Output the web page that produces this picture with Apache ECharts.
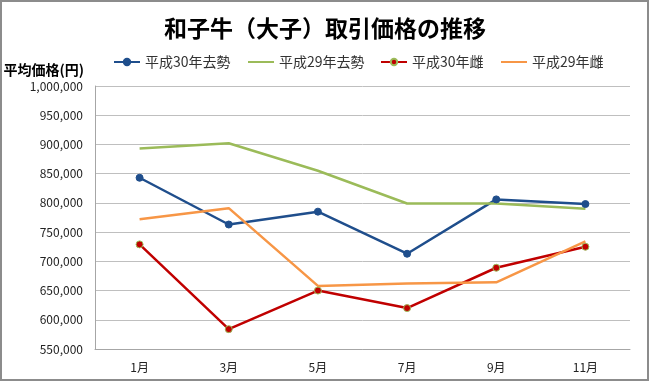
<!DOCTYPE html>
<html>
<head>
<meta charset="utf-8">
<script src="https://cdn.jsdelivr.net/npm/echarts@6/dist/echarts.min.js"></script>
<style>
html,body{margin:0;padding:0;background:#fff;}
#c{width:650px;height:383px;}
</style>
</head>
<body>
<div id="c"></div>
<script>
const categories = ['1月', '3月', '5月', '7月', '9月', '11月'];
const seriesNames = ['平成30年去勢', '平成29年去勢', '平成30年雌', '平成29年雌'];
const h30kyosei = [843000, 763000, 785000, 713000, 806000, 798000];
const h29kyosei = [893000, 902000, 855000, 799000, 799000, 790000];
const h30mesu = [729000, 584000, 650000, 620000, 689000, 725000];
const h29mesu = [772000, 791000, 658000, 662000, 664000, 734000];
const yTicks = { min: 550000, max: 1000000, interval: 50000 };

const FONT = '"Noto Sans CJK JP", "Noto Sans", sans-serif';
const colors = ['#1F4E8C', '#9BBB59', '#C00000', '#F79646'];
const legendLefts = [113, 247, 380, 500];
const hasMarker = [true, false, true, false];

const chart = echarts.init(document.getElementById('c'), null, { renderer: 'canvas' });

const legends = seriesNames.map((n, i) => ({
  data: [hasMarker[i] ? { name: n } : { name: n, itemStyle: { opacity: 0 } }],
  left: legendLefts[i],
  top: 55,
  padding: 0,
  itemWidth: 26,
  itemHeight: 8,
  itemGap: 0,
  textStyle: { fontFamily: FONT, fontSize: 14, color: '#333' }
}));

chart.setOption({
  backgroundColor: '#fff',
  animation: false,
  title: {
    text: '和子牛（大子）取引価格の推移',
    left: 'center',
    top: 12,
    textStyle: { fontFamily: FONT, fontSize: 23, fontWeight: 'bold', color: '#000' }
  },
  legend: legends,
  graphic: [{
    type: 'rect',
    shape: { x: 1, y: 1, width: 647, height: 379 },
    style: { fill: 'none', stroke: '#8c8c8c', lineWidth: 2 },
    silent: true
  }],
  grid: { left: 95, right: 20, top: 86, bottom: 34, containLabel: false },
  xAxis: {
    type: 'category',
    data: categories,
    boundaryGap: true,
    axisLine: { show: true, lineStyle: { color: '#a6a6a6', width: 1 } },
    axisTick: { show: false },
    axisLabel: { fontFamily: FONT, fontSize: 12, color: '#222', margin: 12 }
  },
  yAxis: {
    type: 'value',
    min: yTicks.min,
    max: yTicks.max,
    interval: yTicks.interval,
    name: '平均価格(円)',
    nameLocation: 'end',
    nameGap: 16,
    nameTextStyle: { fontFamily: FONT, fontSize: 14, fontWeight: 'bold', color: '#000', align: 'right', verticalAlign: 'middle', padding: [0, 11, 0, 0] },
    axisLine: { show: true, lineStyle: { color: '#a6a6a6', width: 1 } },
    axisTick: { show: false },
    splitLine: { show: true, lineStyle: { color: '#bfbfbf', width: 1 } },
    axisLabel: {
      fontFamily: FONT, fontSize: 12, color: '#222', margin: 12,
      formatter: v => v.toLocaleString('en-US')
    }
  },
  series: [
    {
      name: seriesNames[0], type: 'line', data: h30kyosei,
      symbol: 'circle', symbolSize: 7,
      lineStyle: { color: colors[0], width: 2.5 },
      itemStyle: { color: colors[0], borderColor: colors[0], borderWidth: 1 }
    },
    {
      name: seriesNames[1], type: 'line', data: h29kyosei,
      symbol: 'none',
      lineStyle: { color: colors[1], width: 2.5 },
      itemStyle: { color: colors[1] }
    },
    {
      name: seriesNames[2], type: 'line', data: h30mesu,
      symbol: 'circle', symbolSize: 7,
      lineStyle: { color: colors[2], width: 2.5 },
      itemStyle: { color: colors[2], borderColor: '#9BBB59', borderWidth: 1 }
    },
    {
      name: seriesNames[3], type: 'line', data: h29mesu,
      symbol: 'none',
      lineStyle: { color: colors[3], width: 2.5 },
      itemStyle: { color: colors[3] }
    }
  ]
});
</script>
</body>
</html>
